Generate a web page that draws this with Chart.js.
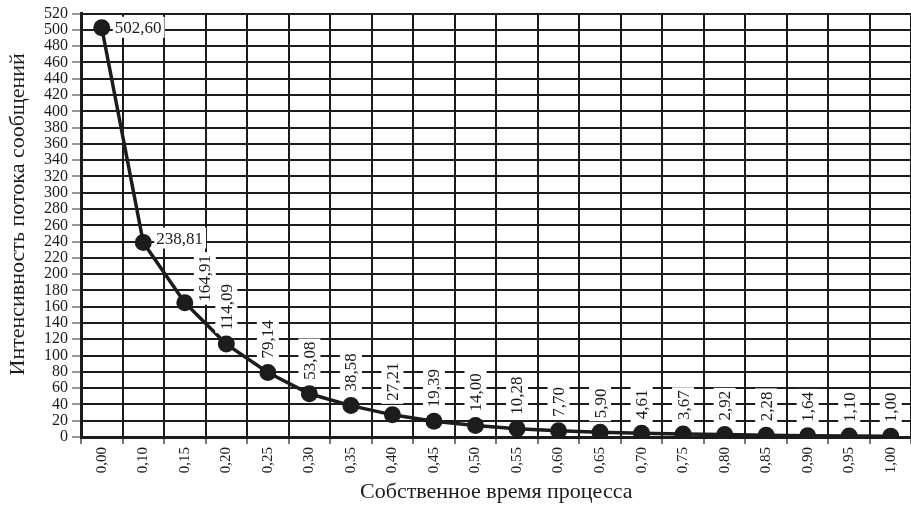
<!DOCTYPE html>
<html>
<head>
<meta charset="utf-8">
<script src="https://cdn.jsdelivr.net/npm/chart.js@4/dist/chart.umd.min.js"></script>
<style>
html,body{margin:0;padding:0;background:#fff;overflow:hidden;width:911px;height:508px;}
#wrap{position:relative;width:920px;height:508px;}
canvas{display:block;}
</style>
</head>
<body>
<div id="wrap"><canvas id="c" width="920" height="508" style="width:920px;height:508px;"></canvas></div>
<script>
const categories = ['0,00','0,10','0,15','0,20','0,25','0,30','0,35','0,40','0,45','0,50','0,55','0,60','0,65','0,70','0,75','0,80','0,85','0,90','0,95','1,00'];
const intensity = [502.60, 238.81, 164.91, 114.09, 79.14, 53.08, 38.58, 27.21, 19.39, 14.00, 10.28, 7.70, 5.90, 4.61, 3.67, 2.92, 2.28, 1.64, 1.10, 1.00];
const yTitle = 'Интенсивность потока сообщений';
const xTitle = 'Собственное время процесса';
const yMin = 0, yMax = 520, yStep = 20;

const FONT = "'Liberation Serif', 'Times New Roman', serif";
const INK = '#1c1c1c';

const labelPlugin = {
  id: 'valueLabels',
  afterDatasetsDraw(chart) {
    const ctx = chart.ctx;
    const meta = chart.getDatasetMeta(0);
    const ds = chart.data.datasets[0].data;
    ctx.save();
    ctx.font = '17px ' + FONT;
    ctx.textBaseline = 'middle';
    meta.data.forEach((pt, i) => {
      const txt = ds[i].toFixed(2).replace('.', ',');
      const w = ctx.measureText(txt).width;
      const h = 16;
      if (i < 2) {
        const x = pt.x + 13, y = pt.y - (i === 1 ? 4 : 0);
        ctx.fillStyle = '#fff';
        ctx.fillRect(x - 2, y - h / 2 - 3, w + 5, h + 5);
        ctx.fillStyle = INK;
        ctx.textAlign = 'left';
        ctx.fillText(txt, x, y + 1);
      } else {
        let ax = pt.x, ay = pt.y - 14;
        if (i === 2) { ax = pt.x + 20; ay = pt.y - 1; }
        ctx.save();
        ctx.translate(ax, ay);
        ctx.rotate(-Math.PI / 2);
        ctx.fillStyle = '#fff';
        ctx.fillRect(-3, -h / 2 - 3, w + 6, h + 6);
        ctx.fillStyle = INK;
        ctx.textAlign = 'left';
        ctx.fillText(txt, 0, 1);
        ctx.restore();
      }
    });
    ctx.restore();
  }
};

new Chart(document.getElementById('c'), {
  type: 'line',
  data: {
    labels: categories,
    datasets: [{
      data: intensity,
      borderColor: INK,
      backgroundColor: INK,
      borderWidth: 3.5,
      pointRadius: 8.5,
      pointHoverRadius: 8.5,
      pointBackgroundColor: INK,
      pointBorderWidth: 0,
      tension: 0
    }]
  },
  options: {
    responsive: false,
    animation: false,
    devicePixelRatio: 1,
    layout: { padding: { top: 9, right: 7, left: 0, bottom: 0 } },
    plugins: { legend: { display: false }, tooltip: { enabled: false } },
    scales: {
      x: {
        offset: true,
        grid: { offset: true, color: INK, lineWidth: 2, tickLength: 7, tickColor: '#777', drawOnChartArea: true },
        border: { color: INK, width: 3 },
        ticks: { autoSkip: false, maxRotation: 90, minRotation: 90, padding: 3, color: INK, font: { family: FONT, size: 15 } },
        title: { display: true, text: xTitle, color: INK, font: { family: FONT, size: 22 }, padding: { top: 0, bottom: 3 } },
        afterFit(s) { s.height = 71; }
      },
      y: {
        min: yMin, max: yMax,
        ticks: { autoSkip: false, stepSize: yStep, padding: 4, color: INK, font: { family: FONT, size: 16 } },
        grid: { color: INK, lineWidth: 2, tickLength: 9, tickColor: '#999' },
        border: { color: INK, width: 3 },
        title: { display: true, text: '\u2002\u2002' + yTitle, color: INK, font: { family: FONT, size: 22 }, padding: { top: 5, bottom: 0 } },
        afterFit(s) { s.width = 81; }
      }
    }
  },
  plugins: [labelPlugin]
});
</script>
</body>
</html>
